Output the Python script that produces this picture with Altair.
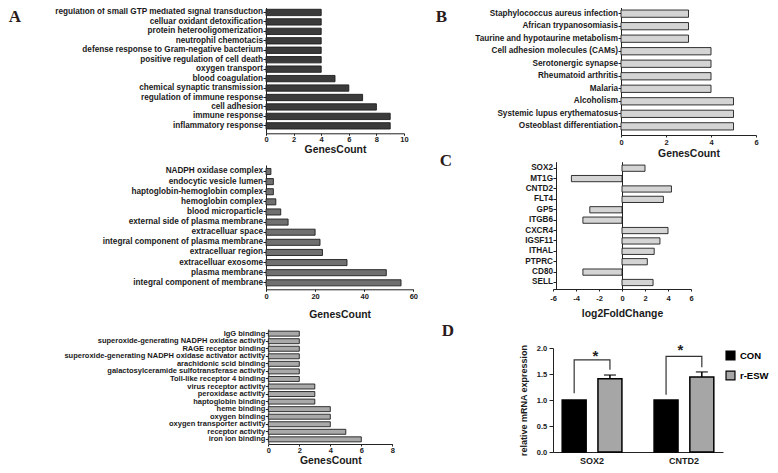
import altair as alt
import pandas as pd

# ---------------- data ----------------
bp_terms = ["regulation of small GTP mediated signal transduction", "celluar oxidant detoxification",
            "protein heterooligomerization", "neutrophil chemotacis",
            "defense response to Gram-negative bacterium", "positive regulation of cell death",
            "oxygen transport", "blood coagulation", "chemical synaptic transmission",
            "regulation of immune response", "cell adhesion", "immune response", "inflammatory response"]
bp_counts = [4, 4, 4, 4, 4, 4, 4, 5, 6, 7, 8, 9, 9]

cc_terms = ["NADPH oxidase complex", "endocytic vesicle lumen", "haptoglobin-hemoglobin complex",
            "hemoglobin complex", "blood microparticle", "external side of plasma membrane",
            "extracelluar space", "integral component of plasma membrane", "extracelluar region",
            "extracelluar exosome", "plasma membrane", "integral component of membrane"]
cc_counts = [2, 3, 3, 4, 6, 9, 20, 22, 23, 33, 49, 55]

mf_terms = ["IgG binding", "superoxide-generating NADPH oxidase activity", "RAGE receptor binding",
            "superoxide-generating NADPH oxidase activator activity", "arachidonic scid binding",
            "galactosylceramide sulfotransferase activity", "Toll-like receptor 4 binding",
            "virus receptor activity", "peroxidase activity", "haptoglobin binding", "heme binding",
            "oxygen binding", "oxygen transporter activity", "receptor activity", "iron ion binding"]
mf_counts = [2, 2, 2, 2, 2, 2, 2, 3, 3, 3, 4, 4, 4, 5, 6]

kegg_terms = ["Staphylococcus aureus infection", "African trypanosomiasis",
              "Taurine and hypotaurine metabolism", "Cell adhesion molecules (CAMs)",
              "Serotonergic synapse", "Rheumatoid arthritis", "Malaria", "Alcoholism",
              "Systemic lupus erythematosus", "Osteoblast differentiation"]
kegg_counts = [3, 3, 3, 4, 4, 4, 4, 5, 5, 5]

deg_genes = ["SOX2", "MT1G", "CNTD2", "FLT4", "GP5", "ITGB6", "CXCR4", "IGSF11", "ITHAL", "PTPRC", "CD80", "SELL"]
deg_lfc = [2.0, -4.4, 4.3, 3.6, -2.8, -3.4, 4.0, 3.3, 2.8, 2.2, -3.4, 2.7]

qpcr_genes = ["SOX2", "CNTD2"]
qpcr_groups = ["CON", "r-ESW"]
qpcr_con = [1.0, 1.0]
qpcr_esw = [1.41, 1.44]
qpcr_esw_sd = [0.07, 0.10]
sig_left_end = [1.13, 1.10]
sig_top = [1.77, 1.84]
sig_right_end = [1.58, 1.63]
star_level = [1.92, 2.02]

# ---------------- layout helpers ----------------
W, H = 762, 457
M = 8
FONT = "Liberation Sans"
SERIF = "Liberation Serif"


def px(v):
    return v - M


def go_panel(terms, counts, fill, x_max, x_step, x_img, y_img, step, pad_in,
             axis_x_img, axis_y_img, lab_pad, title_pad, y_font=8.2):
    df = pd.DataFrame({"term": terms, "count": counts})
    top, bottom = y_img
    n = len(terms)
    pad_out = ((bottom - top) / step - n + pad_in) / 2
    return alt.Chart(df).mark_bar(fill=fill, stroke="#1e1e1e", strokeWidth=0.9).encode(
        x=alt.X("count:Q",
                scale=alt.Scale(domain=[0, x_max], range=[px(x_img[0]), px(x_img[1])], nice=False, zero=True),
                axis=alt.Axis(orient="bottom", offset=px(axis_y_img) - H,
                              values=list(range(0, x_max + 1, x_step)), format="d",
                              title="GenesCount", tickSize=2, labelPadding=lab_pad,
                              titlePadding=title_pad, labelFlush=False)),
        y=alt.Y("term:N", sort=terms,
                scale=alt.Scale(domain=terms, range=[px(top), px(bottom)],
                                paddingInner=pad_in, paddingOuter=pad_out),
                axis=alt.Axis(orient="left", offset=-px(axis_x_img), title=None, tickSize=3,
                              labelPadding=0.5, labelLimit=400, labelOverlap=False,
                              labelFontSize=y_font)),
    )


bp = go_panel(bp_terms, bp_counts, "#3b3b3b", 10, 2, (266, 404), (5, 133.3), 9.45, 0.33, 266, 133.3, 0, 1.7)
cc = go_panel(cc_terms, cc_counts, "#707070", 60, 20, (266, 413.3), (165, 289.3), 10.12, 0.4, 266, 289.3, 1.5, 9.5)
mf = go_panel(mf_terms, mf_counts, "#a9a9a9", 8, 2, (268.3, 392.3), (329, 444), 7.55, 0.34, 268.3, 444, 0, 2.0,
              y_font=7.5)
kegg = go_panel(kegg_terms, kegg_counts, "#d4d4d4", 6, 2, (621, 756), (5, 135), 12.52, 0.42, 621, 135, 1.5, 2.2)

# ---------------- panel C ----------------
c_df = pd.DataFrame({"gene": deg_genes, "lfc": deg_lfc})
c_top, c_bottom, c_step, c_pin = 161.7, 289, 10.39, 0.4
c_pout = ((c_bottom - c_top) / c_step - len(deg_genes) + c_pin) / 2
c_y_scale = alt.Scale(domain=deg_genes, range=[px(c_top), px(c_bottom)], paddingInner=c_pin, paddingOuter=c_pout)
c_x_scale = alt.Scale(domain=[-6, 6], range=[px(553), px(691)], nice=False)

c_bars = alt.Chart(c_df).mark_bar(fill="#d4d4d4", stroke="#1e1e1e", strokeWidth=0.9).encode(
    x=alt.X("lfc:Q", scale=c_x_scale,
            axis=alt.Axis(orient="bottom", offset=px(289) - H, values=[-6, -4, -2, 0, 2, 4, 6],
                          labelExpr="'' + datum.value", title="log2FoldChange", tickSize=2,
                          labelPadding=3, titlePadding=7.3, labelFlush=False)),
    y=alt.Y("gene:N", sort=deg_genes, scale=c_y_scale,
            axis=alt.Axis(orient="left", offset=-px(556), title=None, tickSize=3,
                          labelPadding=0.5, labelOverlap=False)),
)
c_zero = alt.Chart(c_df).mark_bar(opacity=0).encode(
    x=alt.X("lfc:Q", scale=c_x_scale, axis=None),
    y=alt.Y("gene:N", sort=deg_genes, scale=c_y_scale,
            axis=alt.Axis(orient="left", offset=-px(622), title=None, labels=False, ticks=False)),
)

# ---------------- panel D ----------------
bar_df = pd.DataFrame({
    "gene": [g for g in qpcr_genes for _ in qpcr_groups],
    "group": qpcr_groups * len(qpcr_genes),
    "value": [v for pair in zip(qpcr_con, qpcr_esw) for v in pair],
})
err_df = pd.DataFrame({
    "gene": qpcr_genes,
    "group": ["r-ESW"] * len(qpcr_genes),
    "value": qpcr_esw,
    "hi": [m + s for m, s in zip(qpcr_esw, qpcr_esw_sd)],
})
br_rows = []
for i, g in enumerate(qpcr_genes):
    br_rows += [
        {"gene": g, "group": "CON", "value": sig_left_end[i], "k": 0},
        {"gene": g, "group": "CON", "value": sig_top[i], "k": 1},
        {"gene": g, "group": "r-ESW", "value": sig_top[i], "k": 2},
        {"gene": g, "group": "r-ESW", "value": sig_right_end[i], "k": 3},
    ]
br_df = pd.DataFrame(br_rows)
star_df = pd.DataFrame({"gene": qpcr_genes, "value": star_level, "t": ["*"] * len(qpcr_genes)})

D_BASE, D_TOP = 452, 348
d_x_scale = alt.Scale(domain=qpcr_genes, range=[px(553), px(723)], paddingInner=0.35, paddingOuter=0.1)
d_xo_scale = alt.Scale(domain=qpcr_groups, paddingInner=0.33, paddingOuter=0)
d_y_scale = alt.Scale(domain=[0, 2], range=[px(D_BASE), px(D_TOP)], nice=False, zero=True)

d_x_axis = alt.Axis(orient="bottom", offset=px(D_BASE) - H, title=None, ticks=False, labelPadding=4.5,
                    labelFontSize=9, labelAngle=0, labelAlign="center", labelBaseline="top")
d_y_axis = alt.Axis(orient="left", offset=-px(553), values=[0, 0.5, 1.0, 1.5, 2.0], format=".1f",
                    title="relative mRNA expression", titleFontSize=9, tickSize=4, labelPadding=2.3,
                    labelFontSize=7.5, titlePadding=8, labelFlush=False)


def dx(axis):
    return alt.X("gene:N", sort=qpcr_genes, scale=d_x_scale, axis=axis)


def dxo():
    return alt.XOffset("group:N", sort=qpcr_groups, scale=d_xo_scale)


def dy(field, axis):
    return alt.Y(field, scale=d_y_scale, axis=axis)


d_bars = alt.Chart(bar_df).mark_bar(stroke="#000000", strokeWidth=1.5).encode(
    x=dx(d_x_axis),
    xOffset=dxo(),
    y=dy("value:Q", d_y_axis),
    color=alt.Color("group:N", sort=qpcr_groups,
                    scale=alt.Scale(domain=qpcr_groups, range=["#000000", "#a6a6a6"]),
                    legend=alt.Legend(orient="none", legendX=px(725), legendY=px(350), title=None,
                                      symbolType="square", symbolSize=80, symbolStrokeColor="#000000",
                                      symbolStrokeWidth=1.2, labelFontSize=9.5, labelFont=FONT,
                                      labelFontWeight="bold", labelOffset=4, rowPadding=5, padding=0)),
)
d_err = alt.Chart(err_df).mark_rule(color="#000000", strokeWidth=1.5).encode(
    x=dx(None), xOffset=dxo(), y=dy("value:Q", None), y2="hi:Q",
)
d_caps = alt.Chart(err_df).mark_tick(color="#000000", orient="horizontal", size=12, thickness=1.5).encode(
    x=dx(None), xOffset=dxo(), y=dy("hi:Q", None),
)
d_brackets = alt.Chart(br_df).mark_line(color="#333333", strokeWidth=1.2).encode(
    x=dx(None), xOffset=dxo(), y=dy("value:Q", None), detail="gene:N", order="k:Q",
)
d_stars = alt.Chart(star_df).mark_text(font=FONT, fontSize=15, fontWeight="bold", color="#222222",
                                       baseline="middle", dy=3.4).encode(
    x=dx(None), y=dy("value:Q", None), text="t:N",
)

# ---------------- panel letters ----------------
letters = []
for t, lx, ly in [("A", 15, 17), ("B", 441.5, 17), ("C", 446, 160.5), ("D", 448, 331)]:
    letters.append(
        alt.Chart(pd.DataFrame({"t": [t]})).mark_text(font=SERIF, fontSize=17, fontWeight="bold",
                                                      color="#2a1a1a", align="center", baseline="middle")
        .encode(text="t:N", x=alt.value(px(lx)), y=alt.value(px(ly)))
    )

chart = alt.layer(bp, cc, mf, kegg, c_bars, c_zero, d_bars, d_err, d_caps, d_brackets, d_stars,
                  *letters).resolve_scale(
    x="independent", y="independent", color="independent"
).resolve_axis(
    x="independent", y="independent"
).properties(
    width=W, height=H, padding=0, autosize=alt.AutoSizeParams(type="none")
).configure_axis(
    grid=False,
    labelFont=FONT, titleFont=FONT,
    labelFontWeight="bold", titleFontWeight="bold",
    labelFontSize=8.2, titleFontSize=10.4,
    labelColor="#1a1a1a", titleColor="#1a1a1a",
    domainColor="#222222", tickColor="#222222", domainWidth=1, tickWidth=1,
).configure_axisX(
    labelFontSize=7.5
).configure_view(
    stroke=None
)

chart.save("out.html", embed_options={"renderer": "svg", "actions": False})
